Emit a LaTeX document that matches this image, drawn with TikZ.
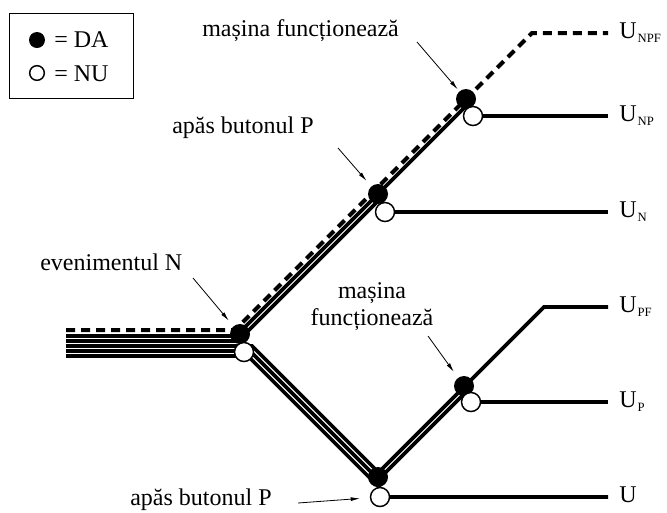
\documentclass[tikz,border=0pt]{standalone}
\usepackage{fontspec}
\setmainfont{Liberation Serif}
\usetikzlibrary{arrows.meta}
\newcommand\Ulab[1]{U\kern0.8pt\raisebox{-3pt}{\fontsize{9.5pt}{10pt}\selectfont #1}}
\begin{document}
\begin{tikzpicture}[x=0.75pt,y=-0.75pt,
  spath/.style={line width=2.7pt},
  dpath/.style={line width=3pt, dash pattern=on 6.75pt off 4.5pt},
  fdot/.style={circle, fill=black, minimum size=15pt, inner sep=0pt},
  odot/.style={circle, draw=black, fill=white, line width=1.1pt, minimum size=14.25pt, inner sep=0pt},
  lab/.style={inner sep=0pt, font=\fontsize{18pt}{21pt}\selectfont},
  arr/.style={line width=0.6pt, -{Latex[length=7pt,width=3pt]}},
]
\useasboundingbox (0,0) rectangle (667,512);

% circle centres
\coordinate (cFN) at (240,334);  \coordinate (cON) at (244,352);
\coordinate (cFPu) at (378,194); \coordinate (cOPu) at (385,212);
\coordinate (cFFt) at (466,99);  \coordinate (cOFt) at (473,116);
\coordinate (cFPb) at (378,477); \coordinate (cOPb) at (380,497);
\coordinate (cFFb) at (464,386); \coordinate (cOFb) at (471,402);

% path starts and ends
\coordinate (sNPF) at (66,330); \coordinate (eNPF) at (608,33);
\coordinate (sNP) at (66,336);  \coordinate (eNP) at (608,116);
\coordinate (sN) at (66,341);   \coordinate (eN) at (608,212);
\coordinate (sPF) at (66,346);  \coordinate (ePF) at (608,307);
\coordinate (sP) at (66,351);   \coordinate (eP) at (608,402);
\coordinate (sU) at (66,356);   \coordinate (eU) at (608,497);

% paths
\draw[dpath] (sNPF) -- (235,330) -- (532,33) -- (eNPF);
\draw[spath] (sNP) -- (236,336) -- (470,102);
\draw[spath] (cOFt) -- (eNP);
\draw[spath] (sN) -- (238,341) -- (381.5,197.5);
\draw[spath] (cOPu) -- (eN);
\draw[spath] (sPF) -- (252.1,346) -- (378.55,472.45) -- (544,307) -- (ePF);
\draw[spath] (sP) -- (250,351) -- (378.5,479.5) -- (468,390);
\draw[spath] (cOFb) -- (eP);
\draw[spath] (sU) -- (247.9,356) -- (388.9,497) -- (eU);

% circles
\node[fdot] (FN) at (cFN) {};
\node[fdot] (FPu) at (cFPu) {};
\node[fdot] (FFt) at (cFFt) {};
\node[fdot] (FPb) at (cFPb) {};
\node[fdot] (FFb) at (cFFb) {};
\node[odot] (ON) at (cON) {};
\node[odot] (OPu) at (cOPu) {};
\node[odot] (OFt) at (cOFt) {};
\node[odot] (OPb) at (cOPb) {};
\node[odot] (OFb) at (cOFb) {};

% legend
\node[draw, line width=0.75pt, anchor=north west, minimum width=93pt, minimum height=63.75pt, inner sep=0pt] (legend) at (9,13) {};
\node[fdot, minimum size=12pt] (lf) at (37,40) {};
\node[lab, anchor=base west] (lda) at (54,47) {= DA};
\node[odot, minimum size=11pt] (lo) at (37,73) {};
\node[lab, anchor=base west] (lnu) at (54,81) {= NU};

% event labels and arrows
\node[lab, anchor=base west] (l1) at (202,36) {mașina funcționează};
\coordinate (a1) at (417,42);
\draw[arr, shorten >=9.5pt] (a1) -- (FFt.center);

\node[lab, anchor=base west] (l2) at (172,133) {apăs butonul P};
\coordinate (a2) at (338,148);
\draw[arr, shorten >=13pt] (a2) -- (FPu.center);

\node[lab, anchor=base west] (l3) at (40,270) {evenimentul N};
\coordinate (a3) at (193,278);
\draw[arr, shorten >=13pt] (a3) -- (FN.center);

\node[lab, anchor=base] (l4a) at (372,298) {mașina};
\node[lab, anchor=base] (l4b) at (372,325) {funcționează};
\coordinate (a4) at (428,336);
\draw[arr, shorten >=13pt] (a4) -- (FFb.center);

\node[lab, anchor=base west] (l5) at (130,505) {apăs butonul P};
\coordinate (a5) at (298,503);
\draw[arr, shorten >=15pt] (a5) -- (OPb.center);

% outcome labels
\node[lab, anchor=base west] (uNPF) at (619,38) {\Ulab{NPF}};
\node[lab, anchor=base west] (uNP) at (619,121) {\Ulab{NP}};
\node[lab, anchor=base west] (uN) at (619,217) {\Ulab{N}};
\node[lab, anchor=base west] (uPF) at (619,312) {\Ulab{PF}};
\node[lab, anchor=base west] (uP) at (619,407) {\Ulab{P}};
\node[lab, anchor=base west] (uU) at (619,502) {U};
\end{tikzpicture}
\end{document}
